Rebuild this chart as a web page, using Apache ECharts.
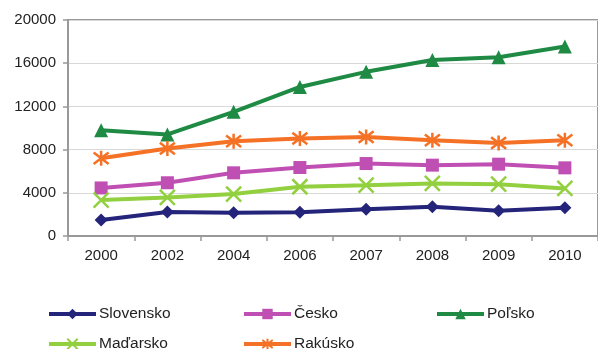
<!DOCTYPE html>
<html>
<head>
<meta charset="utf-8">
<script src="https://cdn.jsdelivr.net/npm/echarts@6/dist/echarts.min.js"></script>
<style>html,body{margin:0;padding:0;background:#fff}#c{width:598px;height:349px}</style>
</head>
<body>
<div id="c"></div>
<script>
var years = ['2000','2002','2004','2006','2007','2008','2009','2010'];
var slovensko = [1480, 2220, 2150, 2190, 2470, 2710, 2340, 2620];
var cesko     = [4450, 4930, 5850, 6340, 6710, 6560, 6650, 6310];
var polsko    = [9800, 9400, 11500, 13800, 15200, 16300, 16550, 17550];
var madarsko  = [3330, 3570, 3880, 4560, 4710, 4870, 4800, 4400];
var rakusko   = [7200, 8100, 8780, 9020, 9170, 8870, 8620, 8870];
var yTicks = [0, 4000, 8000, 12000, 16000, 20000];

var FONT = 'Liberation Sans, Arial, sans-serif';
var xPath = 'path://M0,0L10,10M10,0L0,10';
var starPath = 'path://M0,0L10,10M10,0L0,10M5,-1.5L5,11.5';

function mk(name, data, color, symbol, size, stroked) {
  var s = {
    name: name, type: 'line', data: data, symbol: symbol, symbolSize: size,
    showAllSymbol: true,
    lineStyle: {color: color, width: 4},
    itemStyle: {color: color},
    emphasis: {disabled: true},
    z: 3
  };
  if (stroked) {
    s.itemStyle = {color: 'rgba(0,0,0,0)', borderColor: color, borderWidth: 2.5};
  }
  return s;
}

var series = [
  mk('Slovensko', slovensko, '#24247a', 'diamond', 13),
  mk('Česko', cesko, '#c04fb4', 'rect', 13),
  mk('Poľsko', polsko, '#1e8a44', 'triangle', 14),
  mk('Maďarsko', madarsko, '#92d040', xPath, 15, true),
  mk('Rakúsko', rakusko, '#f47125', starPath, 15, true)
];

function lg(name, left, top) {
  return {
    data: [name], left: left, top: top, itemWidth: 47, itemHeight: 13, itemGap: 0,
    lineStyle: {width: 4},
    textStyle: {fontFamily: FONT, fontSize: 15.5, color: '#222', padding: [0, 0, 0, -2]},
    selectedMode: false, padding: 0
  };
}

var chart = echarts.init(document.getElementById('c'), null, {renderer: 'canvas'});
chart.setOption({
  animation: false,
  backgroundColor: '#fff',
  grid: {left: 68, right: -2, top: 20, bottom: 113, show: true, borderColor: '#999', borderWidth: 2, backgroundColor: 'transparent'},
  xAxis: {
    type: 'category', data: years, boundaryGap: true,
    axisLine: {lineStyle: {color: '#999', width: 2}},
    axisTick: {show: true, length: 5, lineStyle: {color: '#999', width: 1.5}},
    axisLabel: {fontFamily: FONT, fontSize: 15, color: '#222', margin: 12}
  },
  yAxis: {
    type: 'value', min: yTicks[0], max: yTicks[yTicks.length - 1], interval: 4000,
    axisLine: {show: true, lineStyle: {color: '#999', width: 2}},
    axisTick: {show: true, length: 5, lineStyle: {color: '#999', width: 1.5}},
    axisLabel: {fontFamily: FONT, fontSize: 15, color: '#222', margin: 12, formatter: function (v) { return String(v); }},
    splitLine: {lineStyle: {color: '#d8d8d8', width: 1}}
  },
  legend: [
    lg('Slovensko', 47, 306),
    lg('Česko', 242, 306),
    lg('Poľsko', 435, 306),
    lg('Maďarsko', 47, 336),
    lg('Rakúsko', 242, 336)
  ],
  series: series
});
</script>
</body>
</html>
